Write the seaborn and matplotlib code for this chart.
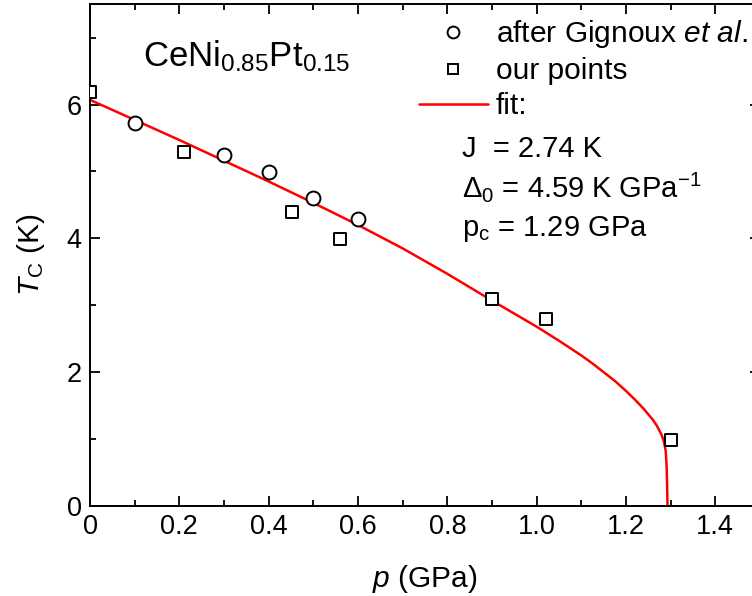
import numpy as np
import pandas as pd
import seaborn as sns
from matplotlib import pyplot as plt
from matplotlib.ticker import MultipleLocator
from matplotlib.lines import Line2D

# data
gig_p = [0.1, 0.3, 0.4, 0.5, 0.6]
gig_tc = [5.72, 5.24, 4.99, 4.60, 4.29]

our_p = [0.0, 0.21, 0.452, 0.56, 0.90, 1.02, 1.30]
our_tc = [6.18, 5.29, 4.39, 3.99, 3.09, 2.79, 0.99]

fit_p = [0.0, 0.1, 0.2, 0.3, 0.4, 0.5, 0.6, 0.7, 0.8, 0.9, 1.0, 1.05, 1.1,
         1.125, 1.15, 1.175, 1.2, 1.22, 1.24, 1.25, 1.26, 1.27, 1.28, 1.285,
         1.289, 1.291, 1.292, 1.293]
fit_tc = [6.07, 5.77, 5.47, 5.16, 4.85, 4.53, 4.20, 3.85, 3.47, 3.07, 2.68,
          2.47, 2.25, 2.13, 2.00, 1.87, 1.72, 1.59, 1.45, 1.37, 1.29, 1.19,
          1.06, 0.96, 0.82, 0.60, 0.35, 0.0]

sns.set_style('ticks')
plt.rcParams['font.family'] = ['Liberation Sans', 'DejaVu Sans']
plt.rcParams['mathtext.fontset'] = 'custom'
plt.rcParams['mathtext.rm'] = 'Liberation Sans'
plt.rcParams['mathtext.it'] = 'Liberation Sans:italic'
plt.rcParams['mathtext.sf'] = 'Liberation Sans'
for k in ['text.color', 'axes.labelcolor', 'xtick.color', 'ytick.color', 'axes.edgecolor']:
    plt.rcParams[k] = 'black'

fig = plt.figure(figsize=(7.52, 5.96), dpi=100)
ax = fig.add_axes([0.1197, 0.151, 0.8909, 0.842])

df_fit = pd.DataFrame({'p': fit_p, 'tc': fit_tc})
sns.lineplot(data=df_fit, x='p', y='tc', color='#ff0000', lw=1.8, sort=False,
             ax=ax, zorder=2)
sns.scatterplot(x=gig_p, y=gig_tc, marker='o', s=100, facecolor='white',
                edgecolor='black', linewidth=1.4, ax=ax, zorder=3)
sns.scatterplot(x=our_p, y=our_tc, marker='s', s=80, facecolor='white',
                edgecolor='black', linewidth=1.4, ax=ax, zorder=3)

ax.set_xlim(0, 1.5)
ax.set_ylim(0, 7.5)
ax.xaxis.set_minor_locator(MultipleLocator(0.1))
ax.yaxis.set_major_locator(MultipleLocator(2))
ax.yaxis.set_minor_locator(MultipleLocator(1))
ax.set_xticks([0, 0.2, 0.4, 0.6, 0.8, 1.0, 1.2, 1.4])
ax.set_xticklabels(['0', '0.2', '0.4', '0.6', '0.8', '1.0', '1.2', '1.4'])
ax.tick_params(which='both', direction='in', top=True, right=True,
               labelsize=19.5, width=1.3, pad=6)
ax.tick_params(which='major', length=7)
ax.tick_params(which='minor', length=4)
for s in ax.spines.values():
    s.set_linewidth(1.4)

ax.set_xlabel(r'$p$ (GPa)', fontsize=21.5, labelpad=16)
ax.set_ylabel(r'$T_{\mathrm{C}}$ (K)', fontsize=21.5, labelpad=14)

ax.text(0.119, 6.57, r'CeNi$_{0.85}$Pt$_{0.15}$', fontsize=25, va='baseline')

handles = [
    Line2D([], [], ls='none', marker='o', ms=8.5, mfc='white', mec='black', mew=1.4),
    Line2D([], [], ls='none', marker='s', ms=7.5, mfc='white', mec='black', mew=1.4),
    Line2D([], [], color='#ff0000', lw=1.8),
]
labels = [r'after Gignoux $et\ al.$', 'our points', 'fit:']
ax.legend(handles, labels, loc='upper left', bbox_to_anchor=(0.491, 0.972),
          frameon=False, fontsize=21.5, handlelength=2.3, handletextpad=0.27,
          labelspacing=0.23, borderaxespad=0, borderpad=0)

ax.text(0.832, 5.22, 'J  = 2.74 K', fontsize=21, va='baseline')
ax.text(0.832, 4.61, r'$\Delta_0$ = 4.59 K GPa$^{-1}$', fontsize=21, va='baseline')
ax.text(0.832, 4.04, r'p$_{\mathrm{c}}$ = 1.29 GPa', fontsize=21, va='baseline')

fig.savefig('out.png', dpi=100)
